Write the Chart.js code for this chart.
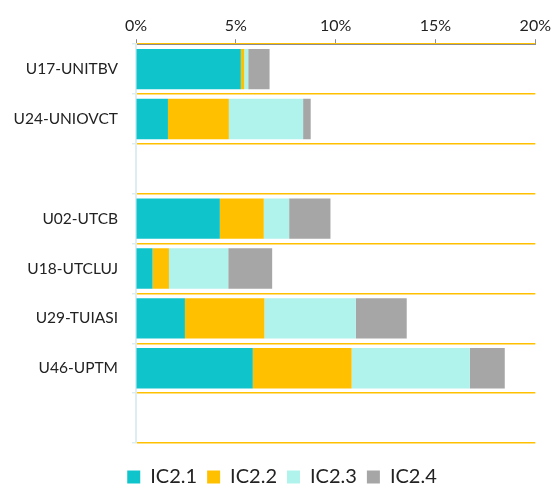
<!DOCTYPE html>
<html>
<head>
<meta charset="utf-8">
<script src="https://cdn.jsdelivr.net/npm/chart.js@4/dist/chart.umd.min.js"></script>
<style>
  html, body { margin: 0; padding: 0; background: #fff; }
  #wrap { width: 555px; height: 489px; }
</style>
</head>
<body>
<div id="wrap"><canvas id="myChart" width="555" height="489"></canvas></div>
<script>
// categories (blank rows are spacers in the original)
var universities = ["U17-UNITBV", "U24-UNIOVCT", "", "U02-UTCB", "U18-UTCLUJ", "U29-TUIASI", "U46-UPTM", ""];
var seriesNames = ["IC2.1", "IC2.2", "IC2.3", "IC2.4"];
// values in %
var ic21 = [5.25, 1.6, null, 4.2, 0.83, 2.45, 5.85, null];
var ic22 = [0.17, 3.05, null, 2.2, 0.82, 3.98, 4.95, null];
var ic23 = [0.2, 3.72, null, 1.27, 2.97, 4.58, 5.92, null];
var ic24 = [1.07, 0.38, null, 2.07, 2.2, 2.55, 1.75, null];
var xTicks = [0, 5, 10, 15, 20];

var colors = ["#10C4CC", "#FFC000", "#B0F2EC", "#A6A6A6"];
var allData = [ic21, ic22, ic23, ic24];

var datasets = [];
for (var i = 0; i < seriesNames.length; i++) {
  datasets.push({
    label: seriesNames[i],
    data: allData[i],
    backgroundColor: colors[i],
    borderWidth: 0,
    barPercentage: 0.81,
    categoryPercentage: 1.0
  });
}

// move the legend a bit (right / down) like in the original
var legendShift = {
  id: 'legendShift',
  afterLayout: function (chart) {
    var lg = chart.legend;
    lg.left += 14; lg.right += 14;
    lg.top += 14; lg.bottom += 14;
  }
};

var ctx = document.getElementById('myChart').getContext('2d');
var myChart = new Chart(ctx, {
  type: 'bar',
  data: { labels: universities, datasets: datasets },
  options: {
    indexAxis: 'y',
    responsive: false,
    animation: false,
    layout: { padding: { top: 12, right: 19, bottom: 6, left: 0 } },
    scales: {
      x: {
        position: 'top',
        stacked: true,
        min: 0,
        max: 20,
        afterBuildTicks: function (scale) {
          scale.ticks = xTicks.map(function (v) { return { value: v }; });
        },
        ticks: {
          callback: function (v) { return v + '%'; },
          color: '#222',
          font: { family: 'Lato', size: 16 },
          padding: 4
        },
        grid: {
          drawOnChartArea: false,
          tickLength: 5,
          color: '#8c8c8c'
        },
        border: { color: '#8c8c8c', width: 1 }
      },
      y: {
        stacked: true,
        afterFit: function (scale) { scale.width = 136; },
        ticks: {
          color: '#222',
          font: { family: 'Lato', size: 15.5 },
          padding: 14
        },
        grid: {
          offset: true,
          color: '#FFC000',
          lineWidth: 1.5,
          tickColor: '#DCEEF4',
          tickLength: 4
        },
        border: { color: '#DCEEF4', width: 2 }
      }
    },
    plugins: {
      legend: {
        position: 'bottom',
        labels: {
          boxWidth: 13,
          boxHeight: 13,
          color: '#222',
          font: { family: 'Lato', size: 20 },
          padding: 10
        }
      },
      tooltip: { enabled: false }
    }
  },
  plugins: [legendShift]
});
</script>
</body>
</html>
